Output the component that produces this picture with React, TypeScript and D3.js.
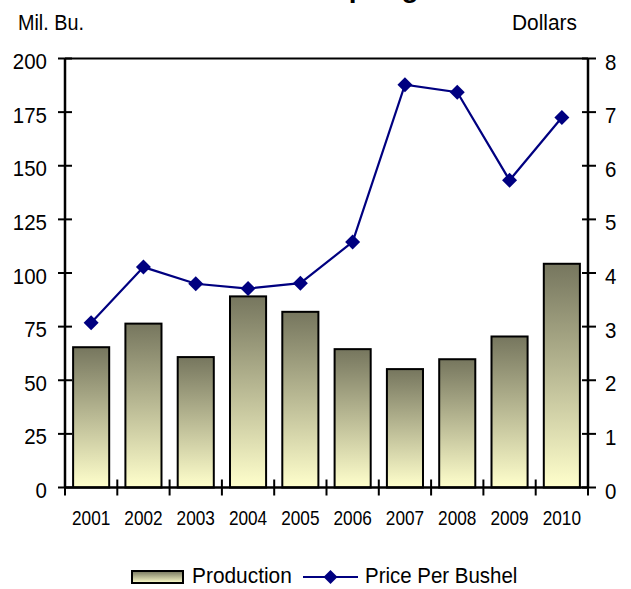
import React from "react";
import * as d3 from "d3";

const years = ["2001", "2002", "2003", "2004", "2005", "2006", "2007", "2008", "2009", "2010"];
const production = [65.4, 76.4, 60.8, 89.1, 81.9, 64.5, 55.2, 59.8, 70.4, 104.3];
const price = [3.07, 4.11, 3.8, 3.71, 3.81, 4.58, 7.51, 7.37, 5.73, 6.9];
const leftTicks = [0, 25, 50, 75, 100, 125, 150, 175, 200];
const rightTicks = [0, 1, 2, 3, 4, 5, 6, 7, 8];
const titleText = "Spring Wheat";
const leftUnit = "Mil. Bu.";
const rightUnit = "Dollars";
const legendBar = "Production";
const legendLine = "Price Per Bushel";

const W = 631;
const H = 589;
const X0 = 65;
const X1 = 588;
const Y0 = 487.5;
const Y1 = 58.5;
const FONT = "'Liberation Sans', Arial, sans-serif";
const NAVY = "#000080";

function T({ x, y, sx = 1, anchor = "start", size = 22, weight = "normal", children }: any) {
  return (
    <g transform={`translate(${x},${y}) scale(${sx},1)`}>
      <text x={0} y={0} textAnchor={anchor} fontSize={size} fontWeight={weight} fontFamily={FONT} fill="#000">
        {children}
      </text>
    </g>
  );
}

function diamond(cx: number, cy: number, r: number) {
  return `M${cx},${cy - r}L${cx + r},${cy}L${cx},${cy + r}L${cx - r},${cy}Z`;
}

export default function App() {
  const x = d3.scaleBand<string>().domain(years).range([X0, X1]).paddingInner(0.31).paddingOuter(0.155);
  const y = d3.scaleLinear().domain([0, 200]).range([Y0, Y1]);
  const yR = d3.scaleLinear().domain([0, 8]).range([Y0, Y1]);
  const step = x.step();
  const cx = (d: string) => (x(d) as number) + x.bandwidth() / 2;
  const line = d3
    .line<number>()
    .x((_, i) => cx(years[i]))
    .y((d) => yR(d));
  const catTicks = d3.range(years.length + 1).map((i) => X0 + i * step);

  return (
    <svg width={W} height={H} style={{ position: "absolute", left: 0, top: 0, overflow: "hidden" }}>
      <defs>
        <linearGradient id="barGrad" x1="0" y1="0" x2="0" y2="1">
          <stop offset="0%" stopColor="#76765E" />
          <stop offset="100%" stopColor="#FFFFCC" />
        </linearGradient>
      </defs>
      <rect x={0} y={0} width={W} height={H} fill="#fff" />

      <T x={330} y={-2.6} size={28} weight="bold">{titleText}</T>
      <T x={18} y={30} sx={0.9}>{leftUnit}</T>
      <T x={577} y={30} sx={0.95} anchor="end">{rightUnit}</T>

      {years.map((yr, i) => (
        <rect
          key={yr}
          x={x(yr)}
          y={y(production[i])}
          width={x.bandwidth()}
          height={Y0 - y(production[i])}
          fill="url(#barGrad)"
          stroke="#000"
          strokeWidth={2}
        />
      ))}

      {/* plot frame */}
      <line x1={X0} x2={X1} y1={Y1} y2={Y1} stroke="#000" strokeWidth={2} />
      <line x1={X0} x2={X0} y1={Y1} y2={Y0} stroke="#000" strokeWidth={2.5} />
      <line x1={X1} x2={X1} y1={Y1} y2={Y0} stroke="#000" strokeWidth={2.5} />
      <line x1={X0} x2={X1} y1={Y0} y2={Y0} stroke="#000" strokeWidth={2.5} />

      {leftTicks.map((t) => (
        <g key={"l" + t}>
          <line x1={X0 - 7} x2={X0 + 7} y1={y(t)} y2={y(t)} stroke="#000" strokeWidth={2} />
          <T x={47} y={y(t) + 10.5} sx={0.93} anchor="end">{String(t)}</T>
        </g>
      ))}
      {rightTicks.map((t) => (
        <g key={"r" + t}>
          <line x1={X1 - 6} x2={X1 + 8} y1={yR(t)} y2={yR(t)} stroke="#000" strokeWidth={2} />
          <T x={605} y={yR(t) + 11} sx={0.93}>{String(t)}</T>
        </g>
      ))}
      {catTicks.map((tx, i) => (
        <line key={"c" + i} x1={tx} x2={tx} y1={Y0 - 8} y2={Y0 + 8} stroke="#000" strokeWidth={2} />
      ))}
      {years.map((yr) => (
        <T key={"t" + yr} x={cx(yr)} y={525} sx={0.82} size={21} anchor="middle">{yr}</T>
      ))}

      <path d={line(price) || ""} fill="none" stroke={NAVY} strokeWidth={2.2} />
      {price.map((p, i) => (
        <path key={"d" + i} d={diamond(cx(years[i]), yR(p), 7.5)} fill={NAVY} />
      ))}

      {/* legend */}
      <rect x={132} y={571} width={51} height={12} fill="url(#barGrad)" stroke="#000" strokeWidth={2} />
      <T x={192} y={583} sx={0.95}>{legendBar}</T>
      <line x1={303} x2={358} y1={577} y2={577} stroke={NAVY} strokeWidth={2.2} />
      <path d={diamond(330.5, 577, 7)} fill={NAVY} />
      <T x={365} y={583} sx={0.93}>{legendLine}</T>
    </svg>
  );
}
